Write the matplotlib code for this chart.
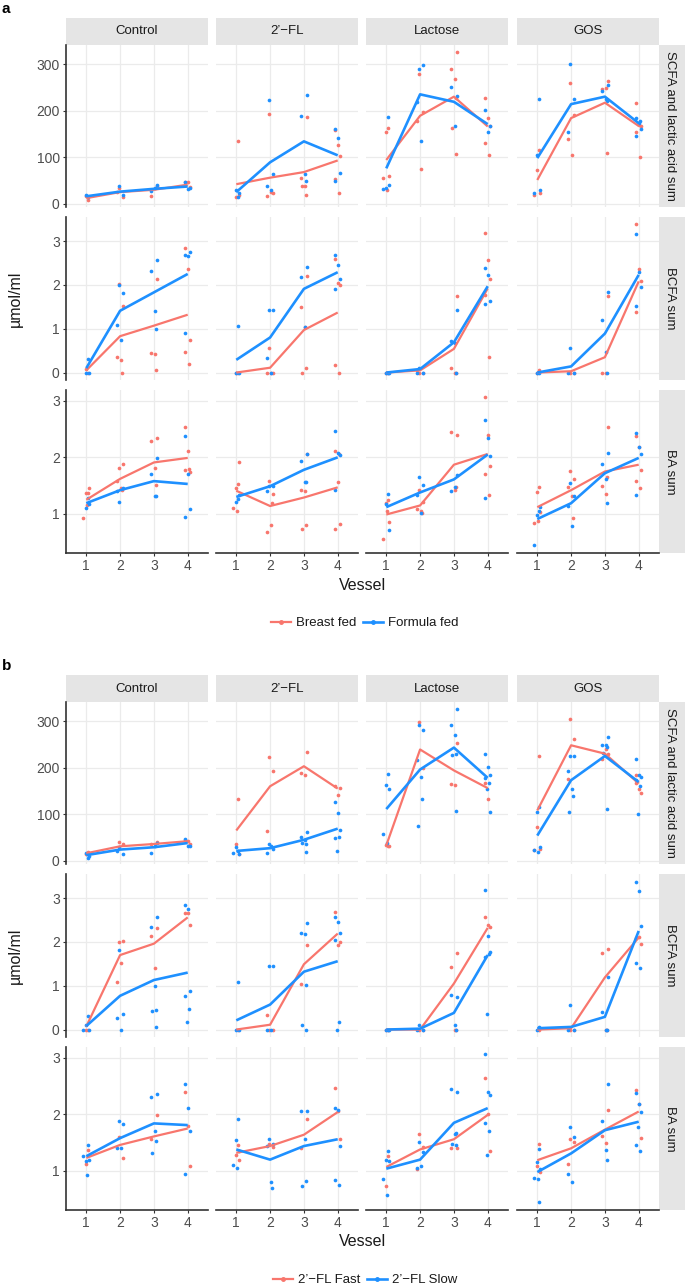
import matplotlib
matplotlib.use("Agg")
import matplotlib.pyplot as plt
from matplotlib.lines import Line2D

plt.rcParams['font.family'] = ['Liberation Sans', 'DejaVu Sans']

# ---- data -------------------------------------------------------------
TREATMENTS = ["Control", "2'-FL", "Lactose", "GOS"]
STRIP_LABELS = ["Control", "2\u2019\u2212FL", "Lactose", "GOS"]
VESSELS = [1, 2, 3, 4]
ROW_LABELS = ["SCFA and lactic acid sum", "BCFA sum", "BA sum"]
ROW_YTICKS = [[0, 100, 200, 300], [0, 1, 2, 3], [1, 2, 3]]
LEGEND_A = ["Breast fed", "Formula fed"]
LEGEND_B = ["2\u2019\u2212FL Fast", "2\u2019\u2212FL Slow"]

# panel a : red = breast fed, blue = formula fed
A_SCFA_RED_MEAN = {"Control": [12, 25, 30, 41], "2'-FL": [42, 56, 68, 93],
                   "Lactose": [94, 189, 230, 166], "GOS": [51, 184, 217, 167]}
A_SCFA_BLUE_MEAN = {"Control": [16, 26, 32, 37], "2'-FL": [25, 89, 134, 104],
                    "Lactose": [76, 235, 219, 171], "GOS": [98, 214, 230, 173]}
A_SCFA_RED_PTS = {
    "Control": [[7, 17], [34, 14, 26], [39, 17], [46, 46, 37]],
    "2'-FL": [[134, 14, 19], [192, 24, 17, 26], [186, 55, 39, 19, 39], [159, 126, 103, 53, 23]],
    "Lactose": [[162, 155, 60, 55, 30], [279, 198, 178, 74], [325, 290, 268, 228, 162, 106], [228, 184, 167, 131, 105]],
    "GOS": [[116, 73, 23, 19], [260, 191, 139, 104], [264, 246, 248, 110], [217, 169, 167, 155, 101]]}
A_SCFA_BLUE_PTS = {
    "Control": [[14, 18], [38, 19], [41, 28, 34], [46, 31, 34]],
    "2'-FL": [[14, 30, 23], [223, 64, 39, 30], [233, 189, 64, 48], [161, 141, 66, 48]],
    "Lactose": [[186, 34, 41, 31], [289, 298, 219, 134], [231, 250, 166], [201, 155, 166]],
    "GOS": [[225, 104, 30, 24], [301, 225, 155], [255, 242, 226, 221], [185, 173, 160, 146, 178]]}

A_BCFA_RED_MEAN = {"Control": [0.05, 0.83, 1.07, 1.32], "2'-FL": [0.0, 0.11, 0.97, 1.37],
                   "Lactose": [0.0, 0.05, 0.54, 1.92], "GOS": [0.0, 0.03, 0.35, 2.08]}
A_BCFA_BLUE_MEAN = {"Control": [0.1, 1.41, 1.83, 2.25], "2'-FL": [0.29, 0.80, 1.91, 2.29],
                    "Lactose": [0.0, 0.08, 0.69, 1.97], "GOS": [0.0, 0.14, 0.89, 2.23]}
A_BCFA_RED_PTS = {
    "Control": [[0, 0.08], [2.03, 1.53, 0.35, 0.28, 0], [2.14, 0.45, 0.43, 0.06], [2.85, 2.37, 0.75, 0.47, 0.19]],
    "2'-FL": [[0, 0], [0.56, 0, 0, 0], [2.21, 1.5, 1.03, 0.11, 0], [2.59, 2.05, 2.0, 0.17, 0]],
    "Lactose": [[0, 0], [0, 0, 0.05], [1.74, 0.1, 0, 0], [3.19, 2.57, 2.14, 1.77, 0.35]],
    "GOS": [[0.06, 0], [0, 0], [1.74, 0, 0], [3.38, 2.37, 2.1, 1.39]]}
A_BCFA_BLUE_PTS = {
    "Control": [[0.31, 0, 0], [1.99, 1.82, 1.09, 0.75], [2.57, 2.32, 1.41, 0.99], [2.68, 2.66, 2.76, 0.9]],
    "2'-FL": [[1.07, 0, 0], [1.42, 1.42, 0.33, 0], [2.42, 2.17, 1.04], [2.68, 2.46, 2.14, 1.91]],
    "Lactose": [[0, 0, 0], [0.1, 0, 0], [1.42, 0.71, 0.68, 0], [2.38, 2.23, 1.63, 1.57]],
    "GOS": [[0, 0], [0.56, 0, 0], [1.83, 1.2, 0.48, 0], [3.17, 2.29, 1.96, 1.53]]}

A_BA_RED_MEAN = {"Control": [1.25, 1.62, 1.91, 1.99], "2'-FL": [1.41, 1.14, 1.29, 1.47],
                 "Lactose": [0.99, 1.15, 1.87, 2.06], "GOS": [1.12, 1.42, 1.75, 1.87]}
A_BA_BLUE_MEAN = {"Control": [1.19, 1.42, 1.58, 1.53], "2'-FL": [1.30, 1.49, 1.78, 2.0],
                  "Lactose": [1.12, 1.38, 1.61, 2.05], "GOS": [0.91, 1.19, 1.72, 1.99]}
A_BA_RED_PTS = {
    "Control": [[1.37, 1.37, 1.45, 0.93, 1.16], [1.82, 1.88, 1.58, 1.45, 1.42], [2.35, 2.29, 1.82, 1.52], [2.54, 2.12, 1.75, 1.78, 1.8]],
    "2'-FL": [[1.53, 1.45, 1.91, 1.11, 1.06], [1.58, 1.35, 0.68, 0.8, 1.2], [2.06, 1.43, 1.4, 0.81, 0.74], [2.12, 1.56, 0.83, 0.74, 2.06]],
    "Lactose": [[1.25, 1.19, 0.85, 0.56, 1.06], [1.43, 1.21, 1.08, 1.05, 1.02], [2.39, 2.45, 1.43, 1.47], [3.06, 2.39, 1.84, 1.71, 1.34]],
    "GOS": [[1.47, 1.38, 1.04, 0.84, 0.87], [1.76, 1.61, 1.47, 1.31, 0.93], [2.54, 1.5, 1.36, 1.66], [2.37, 2.19, 1.77, 1.58, 1.46]]}
A_BA_BLUE_PTS = {
    "Control": [[1.28, 1.11, 1.18], [1.21, 1.46, 1.4], [1.98, 1.71, 1.31, 1.31], [2.38, 1.71, 1.09, 0.94]],
    "2'-FL": [[1.26, 1.21, 1.34], [1.5, 1.49, 1.41], [2.06, 1.93, 1.56, 1.56], [2.47, 2.08, 2.05, 1.43]],
    "Lactose": [[1.36, 1.18, 0.72], [1.65, 1.51, 1.34, 1.02], [1.68, 1.4, 1.47], [2.66, 2.34, 2.02, 1.28]],
    "GOS": [[1.06, 0.99, 1.12, 0.45], [1.54, 1.31, 1.14, 0.79], [2.08, 1.89, 1.61, 1.19], [2.43, 2.18, 2.06, 1.34]]}

# panel b : red = 2'-FL fast, blue = 2'-FL slow
B_SCFA_RED_MEAN = {"Control": [16, 31, 36, 42], "2'-FL": [65, 160, 203, 155],
                   "Lactose": [33, 239, 194, 156], "GOS": [108, 248, 230, 166]}
B_SCFA_BLUE_MEAN = {"Control": [12, 24, 29, 38], "2'-FL": [21, 27, 45, 69],
                    "Lactose": [111, 196, 243, 178], "GOS": [54, 173, 225, 169]}
B_SCFA_RED_PTS = {
    "Control": [[18, 14], [40, 36], [40, 36], [44, 42, 36]],
    "2'-FL": [[133, 37, 14], [222, 192, 63], [233, 189, 185], [160, 141, 156]],
    "Lactose": [[31, 34, 32], [299, 200], [252, 165, 162], [167, 133]],
    "GOS": [[226, 73, 26, 24], [304, 261, 176], [230, 219, 240], [185, 155, 146, 167]]}
B_SCFA_BLUE_PTS = {
    "Control": [[6, 17, 11], [29, 14, 22], [38, 17, 31], [47, 32, 31]],
    "2'-FL": [[22, 29, 14, 17], [37, 25, 17, 31], [61, 52, 45, 37, 39, 19], [126, 103, 65, 49, 52, 22]],
    "Lactose": [[187, 162, 155, 58, 38], [291, 281, 216, 179, 133, 74], [327, 291, 270, 230, 227, 106],
                [230, 202, 185, 178, 167, 155, 105]],
    "GOS": [[116, 104, 29, 24, 19], [226, 226, 192, 155, 139, 104], [266, 248, 248, 245, 232, 111],
            [219, 185, 179, 174, 160, 101]]}

B_BCFA_RED_MEAN = {"Control": [0.07, 1.70, 1.96, 2.56], "2'-FL": [0.0, 0.11, 1.49, 2.19],
                   "Lactose": [0.0, 0.0, 1.05, 2.32], "GOS": [0.0, 0.03, 1.19, 2.1]}
B_BCFA_BLUE_MEAN = {"Control": [0.08, 0.77, 1.13, 1.3], "2'-FL": [0.21, 0.57, 1.32, 1.56],
                    "Lactose": [0.0, 0.02, 0.38, 1.7], "GOS": [0.03, 0.06, 0.29, 2.25]}
B_BCFA_RED_PTS = {
    "Control": [[0, 0], [1.99, 2.03, 1.08, 1.53], [2.32, 2.13, 1.41], [2.67, 2.66, 2.38]],
    "2'-FL": [[0], [0, 0, 0.34], [1.92, 1.05], [2.68, 1.92, 2.0]],
    "Lactose": [[0, 0], [0, 0], [1.74, 1.43, 0, 0], [2.58, 2.39, 2.35]],
    "GOS": [[0], [0, 0], [1.84, 1.74, 0, 0], [2.1, 2.12, 1.96]]}
B_BCFA_BLUE_PTS = {
    "Control": [[0.31, 0.1, 0, 0], [1.81, 0.35, 0.27, 0], [2.56, 2.33, 0.99, 0.44, 0.43, 0.05],
                [2.84, 2.74, 0.88, 0.76, 0.46, 0.17]],
    "2'-FL": [[1.08, 0, 0], [1.44, 1.44, 0, 0], [2.43, 2.21, 2.19, 1.02, 0.11, 0], [2.58, 2.45, 2.2, 2.05, 0.17, 0]],
    "Lactose": [[0, 0, 0], [0.1, 0, 0], [0.74, 0.78, 0.1, 0], [3.18, 2.14, 1.76, 1.66, 1.72, 0.35]],
    "GOS": [[0.05, 0], [0.56, 0, 0], [1.2, 0.41, 0, 0], [3.37, 3.17, 2.37, 1.53, 1.4]]}

B_BA_RED_MEAN = {"Control": [1.23, 1.46, 1.61, 1.75], "2'-FL": [1.32, 1.44, 1.64, 2.04],
                 "Lactose": [1.07, 1.38, 1.56, 1.99], "GOS": [1.19, 1.4, 1.73, 2.05]}
B_BA_BLUE_MEAN = {"Control": [1.26, 1.58, 1.84, 1.81], "2'-FL": [1.38, 1.2, 1.44, 1.56],
                  "Lactose": [1.04, 1.2, 1.85, 2.11], "GOS": [0.98, 1.31, 1.72, 1.87]}
B_BA_RED_PTS = {
    "Control": [[1.37, 1.12], [1.6, 1.22], [1.98, 1.57], [2.39, 1.79, 1.09]],
    "2'-FL": [[1.45, 1.28, 1.2], [1.48, 1.42], [1.92, 1.41], [2.47, 2.06, 1.56]],
    "Lactose": [[1.26, 0.74], [1.65, 1.43, 1.03], [1.41, 1.41], [2.65, 2.01, 1.35]],
    "GOS": [[1.48, 1.08, 0.99], [1.56, 1.51, 1.13], [2.08, 1.61, 1.5], [2.43, 2.18, 1.58]]}
B_BA_BLUE_PTS = {
    "Control": [[1.46, 1.18, 1.2, 1.27, 0.93], [1.88, 1.83, 1.41, 1.41], [2.36, 2.3, 1.71, 1.53, 1.32], [2.53, 2.12, 1.71, 0.94]],
    "2'-FL": [[1.91, 1.54, 1.35, 1.1, 1.06], [1.57, 1.47, 1.44, 0.81, 0.69], [2.06, 2.06, 1.56, 0.82, 0.74], [2.12, 2.08, 1.44, 0.84, 0.75]],
    "Lactose": [[1.36, 1.19, 1.18, 0.85, 0.57], [1.51, 1.34, 1.06, 1.09], [2.39, 2.45, 1.65, 1.67, 1.48, 1.46],
                [3.06, 2.39, 2.35, 1.85, 1.7, 1.29]],
    "GOS": [[1.39, 1.15, 1.03, 0.87, 0.85, 0.46], [1.78, 1.6, 0.94, 0.8], [2.53, 1.89, 1.37, 1.2],
            [2.37, 2.19, 2.05, 1.46, 1.35, 1.77]]}

# ---- style / layout ---------------------------------------------------
RED = '#F8766D'
BLUE = '#1E90FF'
GRID = '#EBEBEB'
STRIP = '#E5E5E5'
TXT = '#4D4D4D'
AXC = '#333333'
JIT = [-0.07, 0.05, -0.02, 0.08, -0.09, 0.02, 0.06]
ROW_YLIM = [(-7, 341), (-0.17, 3.55), (0.31, 3.19)]

W, H = 685, 1286
COL_L = [66, 216, 366, 517]
PW = 142
ROW_T = [45, 217, 390]
ROW_H = [162, 163, 163]


def box(l, t, w, h):
    return [l / W, 1 - (t + h) / H, w / W, h / H]


def draw_block(fig, off, tag, rows, leg_labels):
    # rows : list of (red_mean, blue_mean, red_pts, blue_pts)
    fig.text(2 / W, 1 - (off + 9) / H, tag, fontsize=11, fontweight='bold', va='center', ha='left')
    for c, lab in enumerate(STRIP_LABELS):
        sax = fig.add_axes(box(COL_L[c], off + 18, PW, 27))
        sax.set_facecolor(STRIP)
        sax.set_xticks([]); sax.set_yticks([])
        for s in sax.spines.values():
            s.set_visible(False)
        sax.text(0.5, 0.5, lab, transform=sax.transAxes, ha='center', va='center', fontsize=9.5, color='#1A1A1A')
    for r, (rmean, bmean, rpts, bpts) in enumerate(rows):
        rax = fig.add_axes(box(658, off + ROW_T[r], 27, ROW_H[r]))
        rax.set_facecolor(STRIP)
        rax.set_xticks([]); rax.set_yticks([])
        for s in rax.spines.values():
            s.set_visible(False)
        rax.text(0.45, 0.5, ROW_LABELS[r], transform=rax.transAxes, ha='center', va='center',
                 rotation=-90, fontsize=9.5, color='#1A1A1A')
        for c, t in enumerate(TREATMENTS):
            ax = fig.add_axes(box(COL_L[c], off + ROW_T[r], PW, ROW_H[r]))
            ax.set_xlim(0.4, 4.6)
            ax.set_ylim(*ROW_YLIM[r])
            ax.set_xticks(VESSELS)
            ax.set_yticks(ROW_YTICKS[r])
            ax.grid(True, color=GRID, lw=0.9)
            ax.set_axisbelow(True)
            for s in ax.spines.values():
                s.set_visible(False)
            # jittered points
            for pts, col in ((rpts[t], RED), (bpts[t], BLUE)):
                for v, vals in zip(VESSELS, pts):
                    xs = [v + JIT[(i + v) % len(JIT)] for i in range(len(vals))]
                    ax.scatter(xs, vals, s=7, color=col, linewidths=0, zorder=3)
            ax.plot(VESSELS, rmean[t], color=RED, lw=1.6, zorder=4, solid_capstyle='butt')
            ax.plot(VESSELS, bmean[t], color=BLUE, lw=1.9, zorder=5, solid_capstyle='butt')
            ax.tick_params(length=2.5, width=0.8, color=AXC, labelcolor=TXT, labelsize=10, pad=2)
            if c == 0:
                ax.spines['left'].set_visible(True)
                ax.spines['left'].set_color(AXC)
                ax.spines['left'].set_linewidth(1.2)
            else:
                ax.tick_params(axis='y', left=False, labelleft=False)
            if r == 2:
                ax.spines['bottom'].set_visible(True)
                ax.spines['bottom'].set_color(AXC)
                ax.spines['bottom'].set_linewidth(1.2)
            else:
                ax.tick_params(axis='x', bottom=False, labelbottom=False)
    fig.text(15 / W, 1 - (off + 299) / H, "\u00b5mol/ml", rotation=90, ha='center', va='center',
             fontsize=11.5, color='#1A1A1A')
    fig.text(362 / W, 1 - (off + 585) / H, "Vessel", ha='center', va='center', fontsize=11.5, color='#1A1A1A')
    handles = [Line2D([], [], color=RED, lw=1.6, marker='o', markersize=2.5),
               Line2D([], [], color=BLUE, lw=1.9, marker='o', markersize=2.5)]
    fig.legend(handles, leg_labels, loc='center', bbox_to_anchor=(365 / W, 1 - (off + 623) / H),
               ncol=2, frameon=False, fontsize=9.5, handlelength=1.5, handletextpad=0.4,
               columnspacing=0.5, labelcolor='#1A1A1A')


fig = plt.figure(figsize=(W / 100, H / 100), dpi=100)

rows_a = [(A_SCFA_RED_MEAN, A_SCFA_BLUE_MEAN, A_SCFA_RED_PTS, A_SCFA_BLUE_PTS),
          (A_BCFA_RED_MEAN, A_BCFA_BLUE_MEAN, A_BCFA_RED_PTS, A_BCFA_BLUE_PTS),
          (A_BA_RED_MEAN, A_BA_BLUE_MEAN, A_BA_RED_PTS, A_BA_BLUE_PTS)]
rows_b = [(B_SCFA_RED_MEAN, B_SCFA_BLUE_MEAN, B_SCFA_RED_PTS, B_SCFA_BLUE_PTS),
          (B_BCFA_RED_MEAN, B_BCFA_BLUE_MEAN, B_BCFA_RED_PTS, B_BCFA_BLUE_PTS),
          (B_BA_RED_MEAN, B_BA_BLUE_MEAN, B_BA_RED_PTS, B_BA_BLUE_PTS)]

draw_block(fig, 0, "a", rows_a, LEGEND_A)
draw_block(fig, 657, "b", rows_b, LEGEND_B)

fig.savefig("out.png", dpi=100)
